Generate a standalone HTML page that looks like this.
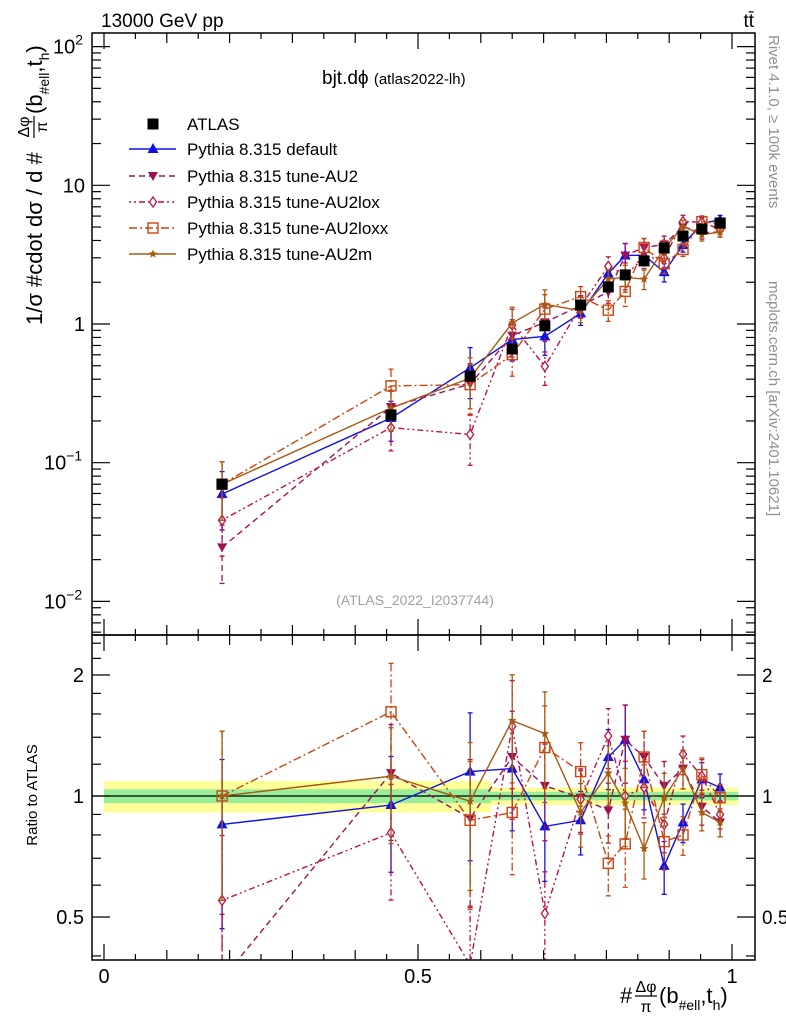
<!DOCTYPE html>
<html><head><meta charset="utf-8">
<style>
html,body{margin:0;padding:0;background:#fff;width:786px;height:1024px;overflow:hidden;}
svg{display:block;font-family:"Liberation Sans",sans-serif;}
</style></head>
<body>
<svg id="chart" width="786" height="1024" viewBox="0 0 786 1024">
<defs>
<clipPath id="clipMain"><rect x="92" y="33" width="663" height="602"/></clipPath>
<clipPath id="clipRatio"><rect x="92" y="635" width="663" height="325"/></clipPath>
</defs>
<g id="bands" clip-path="url(#clipRatio)"></g>
<g id="axes"></g>
<g id="marksMain" clip-path="url(#clipMain)"></g>
<g id="marksRatio" clip-path="url(#clipRatio)"></g>
<rect x="92" y="33" width="663" height="602" fill="none" stroke="#000" stroke-width="1.5"/>
<rect x="92" y="635" width="663" height="325" fill="none" stroke="#000" stroke-width="1.5"/>
<text x="101" y="27" font-size="19">13000 GeV pp</text>
<text x="754" y="27" font-size="19" text-anchor="end">tt̄</text>
<text x="322" y="84" font-size="19">bjt.dϕ <tspan font-size="15">(atlas2022-lh)</tspan></text>
<text x="415" y="605" font-size="14" fill="#a0a0a0" text-anchor="middle">(ATLAS_2022_I2037744)</text>
<text transform="translate(769,35) rotate(90)" font-size="15" fill="#909090">Rivet 4.1.0, ≥ 100k events</text>
<text transform="translate(769,281) rotate(90)" font-size="15" fill="#909090">mcplots.cern.ch [arXiv:2401.10621]</text>
<g transform="translate(42,325) rotate(-90)" font-size="22">
<text x="0" y="0">1/σ #cdot dσ / d #</text>
<text x="198" y="-13" font-size="16" text-anchor="middle">Δφ</text>
<line x1="187" y1="-8" x2="209" y2="-8" stroke="#000" stroke-width="1.2"/>
<text x="198" y="5" font-size="16" text-anchor="middle">π</text>
<text x="211" y="0">(b<tspan font-size="14" dy="7">#ell</tspan><tspan dy="-7">,t</tspan><tspan font-size="14" dy="7">h</tspan><tspan dy="-7">)</tspan></text>
</g>
<text transform="translate(37,795) rotate(-90)" font-size="15" text-anchor="middle">Ratio to ATLAS</text>
<g font-size="22">
<text x="620" y="1003">#</text>
<text x="646" y="992" font-size="16" text-anchor="middle">Δφ</text>
<line x1="635" y1="996" x2="657" y2="996" stroke="#000" stroke-width="1.2"/>
<text x="646" y="1012" font-size="16" text-anchor="middle">π</text>
<text x="659" y="1003">(b<tspan font-size="14" dy="7">#ell</tspan><tspan dy="-7">,t</tspan><tspan font-size="14" dy="7">h</tspan><tspan dy="-7">)</tspan></text>
</g>
<g id="legend"></g>
</svg>
<script>
const binX = [0.188,0.457,0.583,0.650,0.702,0.759,0.803,0.830,0.860,0.892,0.922,0.952,0.981];
const atlasVals = [0.070,0.221,0.42,0.66,0.97,1.37,1.85,2.26,2.85,3.53,4.31,4.84,5.35];
const atlasErr = [0.04,0.04,0.05,0.05,0.05,0.05,0.04,0.04,0.04,0.04,0.04,0.04,0.04];
const ratioDefault = [0.85,0.95,1.15,1.17,0.84,0.87,1.25,1.38,1.10,0.67,0.86,1.10,1.05];
const ratioAU2 = [0.35,1.14,0.88,1.25,1.06,0.99,0.92,1.38,1.25,1.06,1.17,0.94,0.86];
const ratioAU2lox = [0.55,0.81,0.38,1.49,0.51,0.98,1.41,1.00,1.05,0.85,1.27,1.12,0.90];
const ratioAU2loxx = [1.00,1.62,0.87,0.91,1.32,1.15,0.68,0.76,1.25,0.77,0.80,1.13,0.99];
const ratioAU2m = [1.00,1.12,0.97,1.54,1.43,0.91,1.14,0.96,0.74,0.99,1.17,0.91,0.86];
const mcErr = [0.45,0.32,0.40,0.30,0.27,0.18,0.17,0.22,0.16,0.15,0.11,0.10,0.08];
const bandYellow = [0.09,0.09,0.09,0.05,0.05,0.05,0.05,0.05,0.05,0.05,0.05,0.05,0.05];
const bandGreen = [0.04,0.04,0.04,0.025,0.025,0.025,0.025,0.025,0.025,0.025,0.025,0.025,0.025];

const NS="http://www.w3.org/2000/svg";
const X=v=>104+628*v;
const YM=v=>324-138.7*Math.log10(v);
const YR=r=>796-121*Math.log2(r);
function mk(tag,attrs,parent){const e=document.createElementNS(NS,tag);for(const k in attrs)e.setAttribute(k,attrs[k]);parent.appendChild(e);return e;}
const axes=document.getElementById('axes');
const gm=document.getElementById('marksMain');
const gr=document.getElementById('marksRatio');
const gb=document.getElementById('bands');
const leg=document.getElementById('legend');

function bandPath(arr){
  let top=[],bot=[];
  const edges=[0];
  for(let i=0;i<binX.length-1;i++)edges.push((binX[i]+binX[i+1])/2);
  edges.push(1.01);
  for(let i=0;i<binX.length;i++){top.push([X(edges[i]),YR(1+arr[i])],[X(edges[i+1]),YR(1+arr[i])]);bot.push([X(edges[i]),YR(1-arr[i])],[X(edges[i+1]),YR(1-arr[i])]);}
  const pts=top.concat(bot.reverse());
  return 'M'+pts.map(p=>p[0].toFixed(1)+','+p[1].toFixed(1)).join('L')+'Z';
}
let e=mk('path',{d:bandPath(bandYellow),fill:'#ffff99'},gb);


e=mk('path',{d:bandPath(bandGreen),fill:'#99ee99'},gb);


e=mk('line',{x1:92,x2:755,y1:YR(1),y2:YR(1),stroke:'#000','stroke-width':1.2},gb);



function tick(x1,y1,x2,y2){mk('line',{x1,y1,x2,y2,stroke:'#000','stroke-width':1.2},axes);}
for(let d=-3;d<=2;d++){
  for(let m=1;m<10;m++){
    const v=m*Math.pow(10,d);const y=YM(v);
    if(y<33||y>635)continue;
    const L=m===1?18:9;
    tick(92,y,92+L,y);tick(755,y,755-L,y);
  }
}
const ylab=[[100,'10','2'],[10,'10',''],[1,'1',''],[0.1,'10','−1'],[0.01,'10','−2']];
ylab.forEach(t=>{
  const el=mk('text',{x:t[2]?70:85,y:YM(t[0])+7,'font-size':20,'text-anchor':'end'},axes);
  el.textContent=t[1];
  
  
  if(t[2]){const s=mk('tspan',{dy:-9,'font-size':14,'text-anchor':'start'},el);s.textContent=t[2];el.setAttribute('text-anchor','start');el.setAttribute('x',t[2].length>1?44:53);}
});
const rt=[0.4,0.5,0.6,0.7,0.8,0.9,1,1.2,1.4,1.6,1.8,2,2.2,2.4];
rt.forEach(r=>{const y=YR(r);const L=(r===0.5||r===1||r===2)?18:9;tick(92,y,92+L,y);tick(755,y,755-L,y);});
[[2,'2'],[1,'1'],[0.5,'0.5']].forEach(t=>{
  let el=mk('text',{x:84,y:YR(t[0])+7,'font-size':20,'text-anchor':'end'},axes);el.textContent=t[1];
  
  
  el=mk('text',{x:762,y:YR(t[0])+7,'font-size':19},axes);el.textContent=t[1];
  
  
});
for(let i=0;i<=20;i++){
  const v=i*0.05;const x=X(v);
  const L=(i%10===0)?16:(i%2===0?10:6);
  tick(x,33,x,33+L);tick(x,635,x,635-L);tick(x,635,x,635+L);tick(x,960,x,960-L);
}
[[0,'0'],[0.5,'0.5'],[1,'1']].forEach(t=>{
  const el=mk('text',{x:X(t[0]),y:983,'font-size':20,'text-anchor':'middle'},axes);el.textContent=t[1];
  
  
});

function marker(g,type,x,y,col){
  let el;
  if(type==='square')el=mk('rect',{x:x-5.5,y:y-5.5,width:11,height:11,fill:'#000'},g);
  else if(type==='tri')el=mk('path',{d:`M${x},${y-6}L${x+5.5},${y+4}L${x-5.5},${y+4}Z`,fill:col},g);
  else if(type==='itri')el=mk('path',{d:`M${x},${y+5}L${x+5},${y-4}L${x-5},${y-4}Z`,fill:col},g);
  else if(type==='diamond')el=mk('path',{d:`M${x},${y-5}L${x+3.5},${y}L${x},${y+5}L${x-3.5},${y}Z`,fill:'#fff',stroke:col,'stroke-width':1.3},g);
  else if(type==='osquare')el=mk('rect',{x:x-5,y:y-5,width:10,height:10,fill:'none',stroke:col,'stroke-width':1.4},g);
  else {let p='';for(let k=0;k<10;k++){const a=-Math.PI/2+k*Math.PI/5;const r=k%2?2:4.5;p+=(k?'L':'M')+(x+r*Math.cos(a)).toFixed(1)+','+(y+r*Math.sin(a)).toFixed(1);}el=mk('path',{d:p+'Z',fill:col},g);}
  return el;
}
const series=[
  {name:'default',label:'Pythia 8.315 default',ratio:ratioDefault,col:'#1010e8',dash:'',m:'tri'},
  {name:'tune-au2',label:'Pythia 8.315 tune-AU2',ratio:ratioAU2,col:'#a01058',dash:'6,4',m:'itri'},
  {name:'tune-au2lox',label:'Pythia 8.315 tune-AU2lox',ratio:ratioAU2lox,col:'#c01048',dash:'2,3,2,3,6,3',m:'diamond'},
  {name:'tune-au2loxx',label:'Pythia 8.315 tune-AU2loxx',ratio:ratioAU2loxx,col:'#cc4410',dash:'8,3,2,3',m:'osquare'},
  {name:'tune-au2m',label:'Pythia 8.315 tune-AU2m',ratio:ratioAU2m,col:'#a85a10',dash:'',m:'star'}
];
function errbar(g,x,y1,y2,col,dash){
  mk('line',{x1:x,x2:x,y1,y2,stroke:col,'stroke-width':1.3,'stroke-dasharray':dash},g);
  mk('line',{x1:x-2.5,x2:x+2.5,y1,y2:y1,stroke:col,'stroke-width':1.3},g);
  mk('line',{x1:x-2.5,x2:x+2.5,y1:y2,y2:y2,stroke:col,'stroke-width':1.3},g);
}
series.forEach(s=>{
  [['main',gm],['ratio',gr]].forEach(([pn,g])=>{
    const sg=mk('g',{},g);
    
    
    const vals=binX.map((bx,i)=>pn==='main'?atlasVals[i]*s.ratio[i]:s.ratio[i]);
    const Y=pn==='main'?YM:YR;
    const pts=binX.map((bx,i)=>X(bx).toFixed(1)+','+Y(vals[i]).toFixed(1));
    const pl=mk('polyline',{points:pts.join(' '),fill:'none',stroke:s.col,'stroke-width':1.4,'stroke-dasharray':s.dash},sg);
    
    
    binX.forEach((bx,i)=>{
      errbar(sg,X(bx),Y(vals[i]*(1+mcErr[i])),Y(vals[i]*Math.max(0.05,1-mcErr[i])),s.col,s.dash);
      const mm=marker(sg,s.m,X(bx),Y(vals[i]),s.col);
      
      
    });
  });
});
const ag=mk('g',{},gm);


binX.forEach((bx,i)=>{
  errbar(ag,X(bx),YM(atlasVals[i]*(1+atlasErr[i])),YM(atlasVals[i]*(1-atlasErr[i])),'#000','');
  const mm=marker(ag,'square',X(bx),YM(atlasVals[i]),'#000');
  
  
});
const legRows=[124,149,176,202,228,254];
let le=mk('g',{},leg);


marker(le,'square',153,legRows[0],'#000');
let lt=mk('text',{x:187,y:legRows[0]+6,'font-size':17},le);lt.textContent='ATLAS';
series.forEach((s,k)=>{
  const y=legRows[k+1];
  const g=mk('g',{},leg);
  
  
  mk('line',{x1:129,x2:176,y1:y,y2:y,stroke:s.col,'stroke-width':1.4,'stroke-dasharray':s.dash},g);
  marker(g,s.m,153,y,s.col);
  const t=mk('text',{x:187,y:y+6,'font-size':17},g);t.textContent=s.label;
});
</script>
</body></html>
